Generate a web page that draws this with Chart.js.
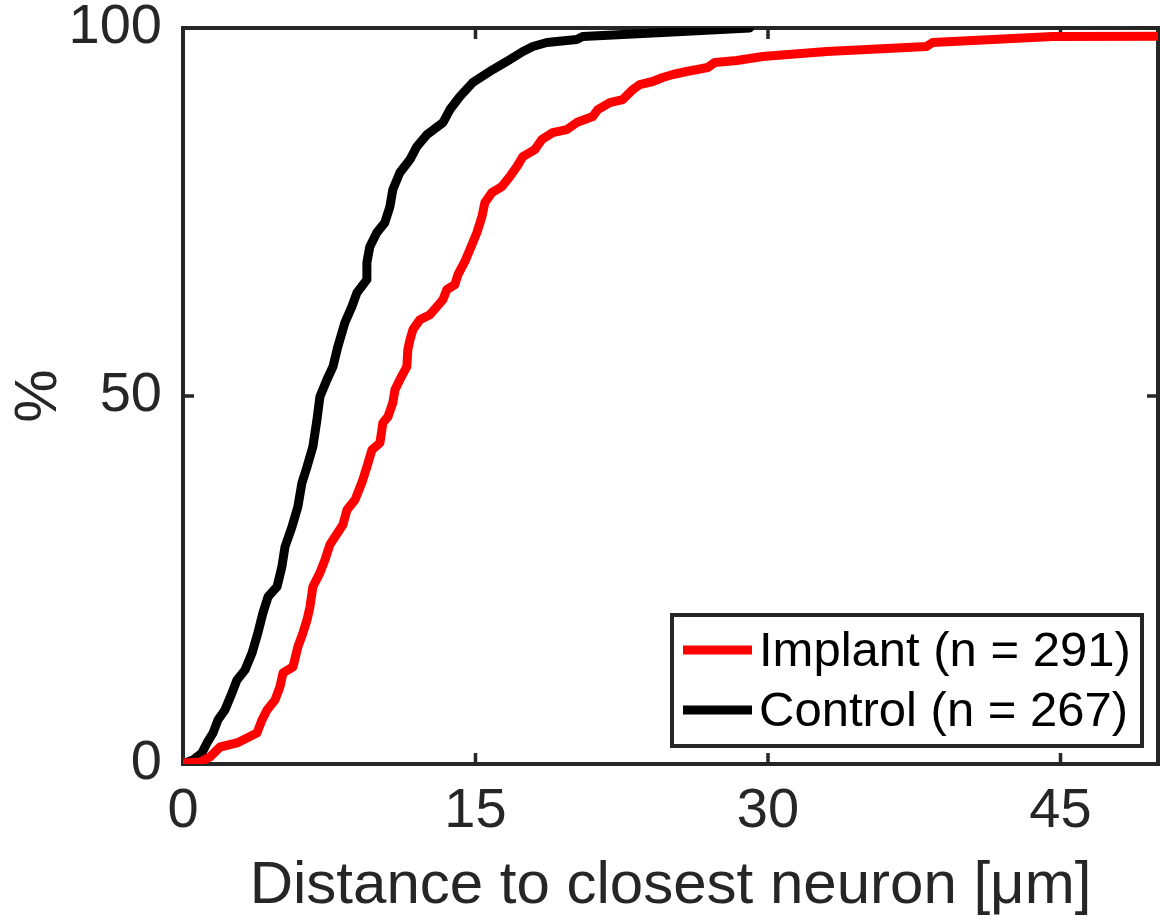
<!DOCTYPE html>
<html lang="en">
<head>
    <meta charset="UTF-8">
    <title>Distance to closest neuron</title>
    <script src="https://cdn.jsdelivr.net/npm/chart.js@4.4.1/dist/chart.umd.min.js"></script>
    <style>
        body { margin: 0; background: #fff; }
        canvas { display: block; }
    </style>
</head>
<body>
    <canvas id="cdfChart" width="1160" height="922"></canvas>
    <script>
        // cumulative distribution, distance in µm vs percent of cells
        const implantX = [0, 0.10, 0.87, 1.38, 1.90, 2.77, 3.79, 4.05, 4.31, 4.72, 4.97, 5.13, 5.64, 5.89, 6.15, 6.36, 6.51, 6.66, 7.02, 7.28, 7.53, 8.20, 8.41, 8.82, 9.17, 9.43, 9.69, 10.10, 10.25, 10.51, 10.76, 10.87, 11.12, 11.48, 11.53, 11.64, 11.79, 12.15, 12.66, 13.02, 13.33, 13.53, 13.94, 14.10, 14.45, 14.71, 15.07, 15.33, 15.48, 15.84, 16.35, 16.76, 17.12, 17.43, 18.04, 18.40, 18.96, 19.68, 20.19, 21.01, 21.27, 21.89, 22.55, 23.07, 23.42, 24.09, 24.60, 25.12, 25.83, 26.91, 27.27, 28.40, 29.73, 33.01, 38.13, 38.44, 43.57, 44.59, 50.5];
        const implantY = [0, 0.14, 0.27, 0.95, 2.31, 2.86, 4.21, 5.98, 7.34, 8.70, 10.47, 12.37, 13.19, 15.91, 17.81, 19.58, 21.35, 24.07, 25.97, 27.74, 29.78, 32.50, 34.53, 35.89, 38.21, 40.38, 42.69, 43.64, 46.36, 47.18, 49.08, 50.85, 52.21, 53.98, 56.29, 57.65, 59.01, 60.37, 61.05, 62.14, 63.09, 64.45, 65.13, 66.49, 68.25, 69.88, 72.20, 74.37, 76.27, 77.63, 78.45, 79.81, 81.17, 82.53, 83.48, 84.84, 85.79, 86.20, 87.15, 87.97, 88.92, 89.87, 90.28, 91.64, 92.32, 92.73, 93.27, 93.68, 94.09, 94.63, 95.31, 95.58, 96.13, 96.81, 97.49, 98.03, 98.71, 98.84, 98.9];

        const controlX = [0, 0.10, 0.51, 0.97, 1.23, 1.54, 1.79, 2.15, 2.51, 2.77, 3.18, 3.54, 3.84, 4.10, 4.36, 4.82, 5.07, 5.23, 5.59, 5.89, 6.10, 6.36, 6.66, 6.87, 7.02, 7.38, 7.69, 7.94, 8.30, 8.66, 8.92, 9.43, 9.43, 9.58, 9.94, 10.35, 10.61, 10.76, 11.12, 11.64, 11.99, 12.51, 13.33, 13.69, 14.20, 14.86, 15.89, 16.76, 17.43, 17.94, 18.66, 20.19, 20.50, 24.60, 29.06];
        const controlY = [0, 0.14, 0.54, 1.50, 2.86, 4.21, 5.98, 7.34, 9.65, 11.42, 12.78, 15.09, 17.81, 20.53, 22.71, 24.07, 26.78, 29.50, 32.22, 34.94, 38.21, 40.38, 43.10, 46.77, 49.90, 52.21, 53.98, 56.70, 59.96, 62.14, 64.04, 65.81, 68.12, 70.29, 72.20, 73.56, 75.73, 78.04, 80.35, 82.12, 83.89, 85.52, 87.15, 88.92, 90.69, 92.59, 94.36, 95.72, 96.81, 97.49, 98.03, 98.44, 98.84, 99.39, 100];

        const xTicks = [0, 15, 30, 45];
        const yTicks = [0, 50, 100];
        const seriesLabels = ['Implant (n = 291)', 'Control (n = 267)'];
        const seriesColors = ['#ff0000', '#000000'];

        const axisColor = '#262626';
        const fontFamily = '"Liberation Sans", Arial, Helvetica, sans-serif';
        const lineW = 9;

        function toPoints(xs, ys) {
            return xs.map((x, i) => ({ x: x, y: ys[i] }));
        }

        // fixed axis band, no extra room for overhanging tick labels
        function fixScale(size, horizontal) {
            return s => {
                if (horizontal) s.height = size; else s.width = size;
                s.paddingTop = 0;
                s.paddingBottom = 0;
                s.paddingLeft = 0;
                s.paddingRight = 0;
            };
        }

        // white page, then the boxed axes with inward ticks on all four sides
        const boxPlugin = {
            id: 'boxAxes',
            beforeDraw(chart) {
                const ctx = chart.ctx;
                ctx.save();
                ctx.fillStyle = '#fff';
                ctx.fillRect(0, 0, chart.width, chart.height);
                ctx.restore();
            },
            beforeDatasetsDraw(chart) {
                const { ctx, chartArea: a, scales } = chart;
                const tick = 11;
                ctx.save();
                ctx.strokeStyle = axisColor;
                ctx.lineWidth = 3.5;
                ctx.beginPath();
                xTicks.forEach(v => {
                    const px = scales.x.getPixelForValue(v);
                    ctx.moveTo(px, a.bottom); ctx.lineTo(px, a.bottom - tick);
                    ctx.moveTo(px, a.top); ctx.lineTo(px, a.top + tick);
                });
                yTicks.forEach(v => {
                    const py = scales.y.getPixelForValue(v);
                    ctx.moveTo(a.left, py); ctx.lineTo(a.left + tick, py);
                    ctx.moveTo(a.right, py); ctx.lineTo(a.right - tick, py);
                });
                ctx.stroke();
                ctx.lineWidth = 4;
                ctx.strokeRect(a.left, a.top, a.right - a.left, a.bottom - a.top);
                ctx.restore();
            },
            afterDatasetsDraw(chart) {
                // boxed legend in the lower right corner
                const { ctx, chartArea: a } = chart;
                const w = 470, h = 131;
                const x0 = a.right - 16 - w, y0 = a.bottom - 18 - h;
                ctx.save();
                ctx.fillStyle = '#fff';
                ctx.fillRect(x0, y0, w, h);
                ctx.strokeStyle = axisColor;
                ctx.lineWidth = 4;
                ctx.strokeRect(x0, y0, w, h);
                ctx.font = '49px ' + fontFamily;
                ctx.textBaseline = 'middle';
                ctx.textAlign = 'left';
                chart.data.datasets.forEach((ds, i) => {
                    const ly = y0 + 35 + i * 60;
                    ctx.strokeStyle = ds.borderColor;
                    ctx.lineWidth = lineW;
                    ctx.beginPath();
                    ctx.moveTo(x0 + 11, ly);
                    ctx.lineTo(x0 + 80, ly);
                    ctx.stroke();
                    ctx.fillStyle = '#000';
                    ctx.fillText(ds.label, x0 + 87, ly + 2);
                });
                ctx.restore();
            }
        };

        const ctx = document.getElementById('cdfChart');
        new Chart(ctx, {
            type: 'line',
            data: {
                datasets: [
                    {
                        label: seriesLabels[0],
                        data: toPoints(implantX, implantY),
                        borderColor: seriesColors[0],
                        borderWidth: lineW,
                        pointRadius: 0,
                        tension: 0,
                        borderJoinStyle: 'round',
                        borderCapStyle: 'round',
                        fill: false
                    },
                    {
                        label: seriesLabels[1],
                        data: toPoints(controlX, controlY),
                        borderColor: seriesColors[1],
                        borderWidth: lineW,
                        pointRadius: 0,
                        tension: 0,
                        borderJoinStyle: 'round',
                        borderCapStyle: 'round',
                        fill: false
                    }
                ]
            },
            options: {
                responsive: false,
                animation: false,
                layout: { padding: { top: 28, right: 2, left: 0, bottom: 0 } },
                plugins: {
                    legend: { display: false },
                    tooltip: { enabled: false }
                },
                scales: {
                    x: {
                        type: 'linear',
                        min: 0,
                        max: 50,
                        afterBuildTicks: s => { s.ticks = xTicks.map(v => ({ value: v })); },
                        afterFit: fixScale(158, true),
                        grid: { display: false, drawTicks: false },
                        border: { display: false },
                        ticks: {
                            color: axisColor,
                            padding: 14,
                            maxRotation: 0,
                            font: { family: fontFamily, size: 56 }
                        },
                        title: {
                            display: true,
                            text: 'Distance to closest neuron [\u03bcm]',
                            color: axisColor,
                            padding: 0,
                            font: { family: fontFamily, size: 60 }
                        }
                    },
                    y: {
                        type: 'linear',
                        min: 0,
                        max: 100,
                        afterBuildTicks: s => { s.ticks = yTicks.map(v => ({ value: v })); },
                        afterFit: fixScale(183, false),
                        grid: { display: false, drawTicks: false },
                        border: { display: false },
                        ticks: {
                            color: axisColor,
                            padding: 21,
                            font: { family: fontFamily, size: 56 }
                        },
                        title: {
                            display: true,
                            text: '%',
                            color: axisColor,
                            padding: { top: 3, bottom: 0 },
                            font: { family: fontFamily, size: 60 }
                        }
                    }
                }
            },
            plugins: [boxPlugin]
        });
    </script>
</body>
</html>
